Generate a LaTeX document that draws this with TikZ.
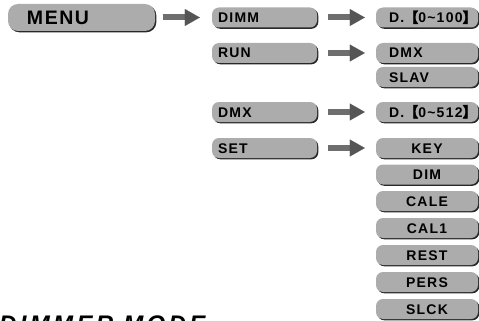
\documentclass[tikz,border=0pt]{standalone}
\usepackage{fontspec}
\setmainfont{Liberation Sans}
\newfontfamily\boxfont{Liberation Sans}[LetterSpace=9]
\newfontfamily\menufont{Liberation Sans}[LetterSpace=8]
\newfontfamily\titlefont{Liberation Sans}[LetterSpace=14]
\newfontfamily\cjk{Noto Sans CJK SC}[FakeBold=3]
\usetikzlibrary{shadows,arrows.meta}
\definecolor{boxgray}{RGB}{172,172,172}
\definecolor{shaftgray}{RGB}{110,110,110}
\definecolor{headgray}{RGB}{85,85,85}
\definecolor{shadowgray}{RGB}{40,40,40}
\newcommand\mylbr{{\cjk 【}}
\newcommand\myrbr{{\cjk 】}}
\tikzset{
  menubox/.style={draw=none, fill=boxgray, rounded corners=7pt,
    drop shadow={shadow xshift=1.3pt, shadow yshift=-1.3pt, fill=shadowgray, opacity=1}},
  mainbox/.style={menubox, rounded corners=10pt, minimum height=27pt, text width=109pt, inner xsep=19pt, inner ysep=0pt,
    align=left, text height=14pt, text depth=0pt, font=\menufont\bfseries\fontsize{19.5pt}{22pt}\selectfont},
  leftbox/.style={menubox, minimum height=20pt, text width=93pt, inner xsep=6pt, inner ysep=0pt,
    align=left, text height=10pt, text depth=0pt, font=\boxfont\bfseries\fontsize{14pt}{16pt}\selectfont},
  rightleft/.style={leftbox, text width=76pt, inner xsep=13pt},
  rightcenter/.style={leftbox, text width=90pt, inner xsep=6pt, align=center},
  blockarrow/.style={draw=shaftgray, line width=6pt,
    -{Triangle[length=15pt, width=17pt, line width=0.1pt, fill=headgray, color=headgray]}},
}
\begin{document}
\begin{tikzpicture}[x=1pt, y=-1pt]
\useasboundingbox (0,0) rectangle (479,321);
\clip (0,0) rectangle (479,321);
\node[mainbox] (menu) at (81.5,17.5) {MENU};
\node[leftbox] (dimm) at (264.5,17.5) {DIMM};
\node[leftbox] (run) at (264.5,53) {RUN};
\node[leftbox] (dmxl) at (264.5,112) {DMX};
\node[leftbox] (set) at (264.5,148) {SET};
\node[rightleft] (d100) at (427,17.5) {D.\mylbr0\textasciitilde100\myrbr};
\node[rightleft] (dmxr) at (427,53) {DMX};
\node[rightleft] (slav) at (427,77) {SLAV};
\node[rightleft] (d512) at (427,112) {D.\mylbr0\textasciitilde512\myrbr};
\node[rightcenter] (key) at (427,148) {KEY};
\node[rightcenter] (dim) at (427,174.5) {DIM};
\node[rightcenter] (cale) at (427,201) {CALE};
\node[rightcenter] (calone) at (427,228) {CAL1};
\node[rightcenter] (rest) at (427,255) {REST};
\node[rightcenter] (pers) at (427,282) {PERS};
\node[rightcenter] (slck) at (427,309) {SLCK};
\draw[blockarrow] ([xshift=8pt]menu.east) -- ([xshift=-12pt]dimm.west);
\draw[blockarrow] ([xshift=11pt]dimm.east) -- ([xshift=-11pt]d100.west);
\draw[blockarrow] ([xshift=11pt]run.east) -- ([xshift=-11pt]dmxr.west);
\draw[blockarrow] ([xshift=11pt]dmxl.east) -- ([xshift=-11pt]d512.west);
\draw[blockarrow] ([xshift=11pt]set.east) -- ([xshift=-11pt]key.west);
\node[anchor=base west, inner sep=0pt, font=\titlefont\bfseries\itshape\fontsize{24pt}{28pt}\selectfont] (title) at (-1,332) {DIMMER MODE};
\end{tikzpicture}
\end{document}
